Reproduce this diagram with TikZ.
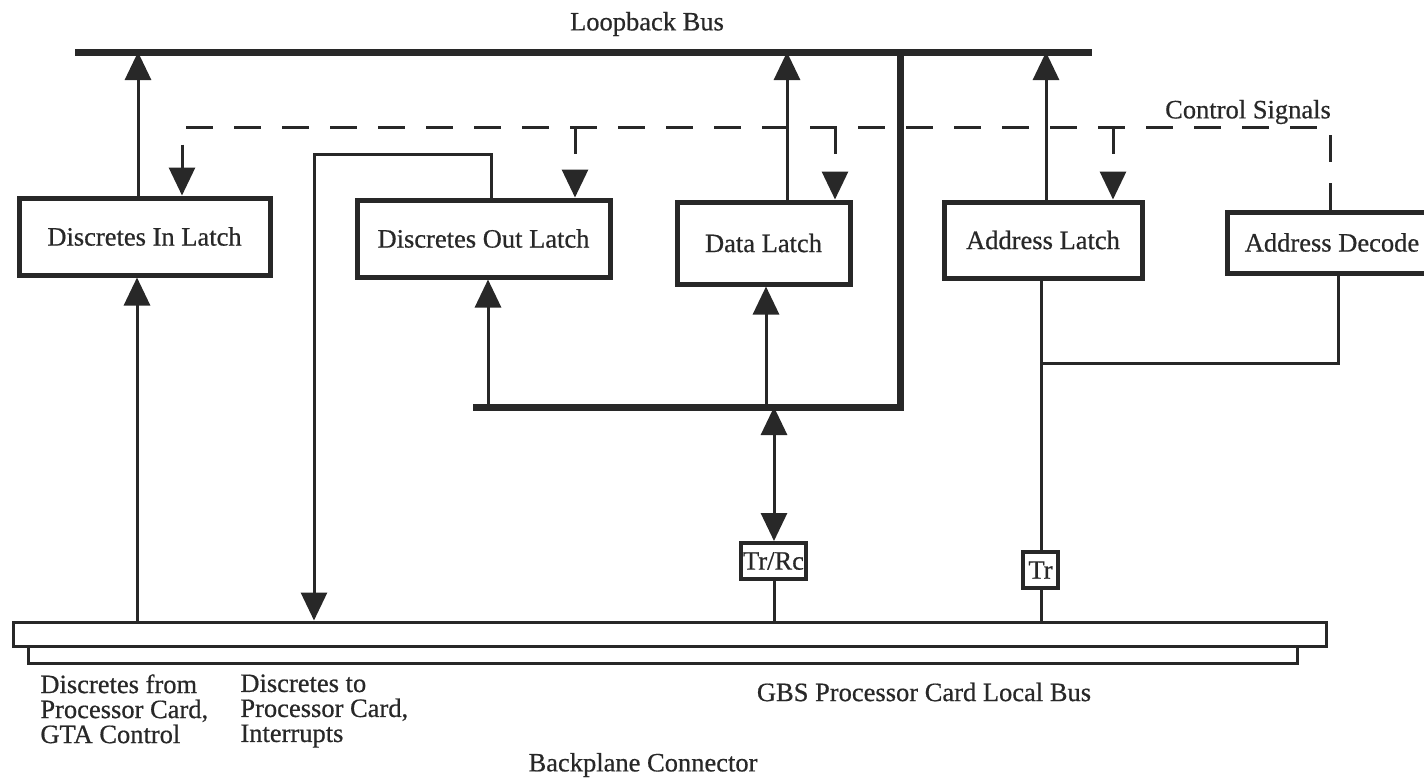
\documentclass[tikz,border=0pt]{standalone}
\usepackage{fontspec}
\setmainfont{Liberation Serif}[FakeBold=0.6]
\usetikzlibrary{arrows.meta}
\definecolor{ink}{RGB}{40,40,40}
\begin{document}
\begin{tikzpicture}[x=0.5pt,y=-0.5pt,
  every node/.style={font=\fontsize{13.25}{12.5}\selectfont, text=ink},
  latch/.style={draw=ink, line width=2.5pt, fill=white, inner sep=0pt},
  smallbox/.style={draw=ink, line width=2pt, inner sep=0.6pt, fill=white, minimum height=18pt},
  wire/.style={draw=ink, line width=1.5pt},
  thickbus/.style={draw=ink, line width=3.5pt, line join=miter},
  ctrl/.style={draw=ink, line width=1.5pt, dash pattern=on 13.5pt off 10.5pt},
  arr/.style={-{Triangle[length=14pt,width=13pt]}},
  darr/.style={{Triangle[length=14pt,width=13pt]}-{Triangle[length=14pt,width=13pt]}},
  busrect/.style={draw=ink, line width=1.5pt, fill=white, inner sep=0pt},
  txtblock/.style={align=left, inner sep=0pt, anchor=north west}
]
\useasboundingbox (0,0) rectangle (1424,778);
\clip (0,0) rectangle (1424,778);

% latches
\node[latch, minimum width=125.5pt, minimum height=38.5pt] (din) at (144.5,236.5) {Discretes In Latch};
\node[latch, minimum width=126.5pt, minimum height=38.5pt] (dout) at (483.5,238.5) {Discretes Out Latch};
\node[latch, minimum width=86.5pt, minimum height=41pt] (data) at (763.5,243) {Data Latch};
\node[latch, minimum width=99pt, minimum height=38pt] (addr) at (1043,240) {Address Latch};
\node[latch, minimum width=105pt, minimum height=30.5pt] (dec) at (1332,242.5) {Address Decode};
\node[smallbox, inner xsep=1pt] (trrc) at (773.5,561) {Tr/Rc};
\node[smallbox, minimum width=17.5pt] (tr) at (1040.5,570) {Tr};

% backplane connector
\node[busrect, minimum width=634.5pt, minimum height=8.5pt] (bpL) at (662.5,654.5) {};
\node[busrect, minimum width=656.5pt, minimum height=12pt] (bpU) at (669.5,634) {};

% labels
\node (lbl) at (647,24) {Loopback Bus};
\node (cs) at (1248,112) {Control Signals};
\node (gbs) at (924,692) {GBS Processor Card Local Bus};
\node (bpc) at (643,765) {Backplane Connector};
\node[txtblock] (l1) at (40,674) {Discretes from\\Processor Card,\\GTA Control};
\node[txtblock] (l2) at (240,674) {Discretes to\\Processor Card,\\Interrupts};

% reference coordinates
\coordinate (lbL) at (75,52);
\coordinate (lbR) at (1092,52);
\coordinate (jv) at (900,52);
\coordinate (jc) at (900,407);
\coordinate (jh) at (473,407);
\coordinate (yC) at (0,127);
\coordinate (yD) at (0,154);
\coordinate (yJ) at (0,363);
\coordinate (xDinUp) at (138,0);
\coordinate (xDinCtl) at (182,0);
\coordinate (xDinBot) at (137,0);
\coordinate (xDoutUp) at (491,0);
\coordinate (xDoutCtl) at (575,0);
\coordinate (xDoutBot) at (488,0);
\coordinate (xDown) at (314,0);
\coordinate (xDataUp) at (787,0);
\coordinate (xDataCtl) at (835,0);
\coordinate (xDataBot) at (766,0);
\coordinate (xTrRc) at (774,0);
\coordinate (xAddrUp) at (1046,0);
\coordinate (xAddrCtl) at (1113,0);
\coordinate (xTr) at (1041,0);
\coordinate (xDecTop) at (1330,0);
\coordinate (xDecBot) at (1338,0);

% thick buses
\draw[thickbus] (lbL) -- (lbR);
\draw[thickbus] (jv) -- (jc) -- (jh);

% discretes in latch
\draw[wire,arr] (xDinUp |- din.north) -- (xDinUp |- lbL);
\draw[wire,arr] (xDinBot |- bpU.north) -- (xDinBot |- din.south);

% discretes out latch
\draw[wire,arr] (xDoutUp |- dout.north) |- (xDown |- yD) -- (xDown |- bpU.north);
\draw[wire,arr] (xDoutBot |- jh) -- (xDoutBot |- dout.south);

% data latch
\draw[wire,arr] (xDataUp |- data.north) -- (xDataUp |- lbL);
\draw[wire,arr] (xDataBot |- jh) -- (xDataBot |- data.south);
\draw[wire,darr] (xTrRc |- jh) -- (xTrRc |- trrc.north);
\draw[wire] (xTrRc |- trrc.south) -- (xTrRc |- bpU.north);

% address latch
\draw[wire,arr] (xAddrUp |- addr.north) -- (xAddrUp |- lbL);
\draw[wire] (xTr |- addr.south) -- (xTr |- tr.north);
\draw[wire] (xTr |- tr.south) -- (xTr |- bpU.north);
\draw[wire] (xDecBot |- dec.south) |- (xTr |- yJ);

% control signals
\draw[ctrl,arr] (xDecTop |- dec.north) |- (xDinCtl |- yC) -- (xDinCtl |- din.north);
\draw[ctrl,arr] (xDoutCtl |- yC) -- (xDoutCtl |- dout.north);
\draw[ctrl,arr] (xDataCtl |- yC) -- (xDataCtl |- data.north);
\draw[ctrl,arr] (xAddrCtl |- yC) -- (xAddrCtl |- addr.north);
\end{tikzpicture}
\end{document}
